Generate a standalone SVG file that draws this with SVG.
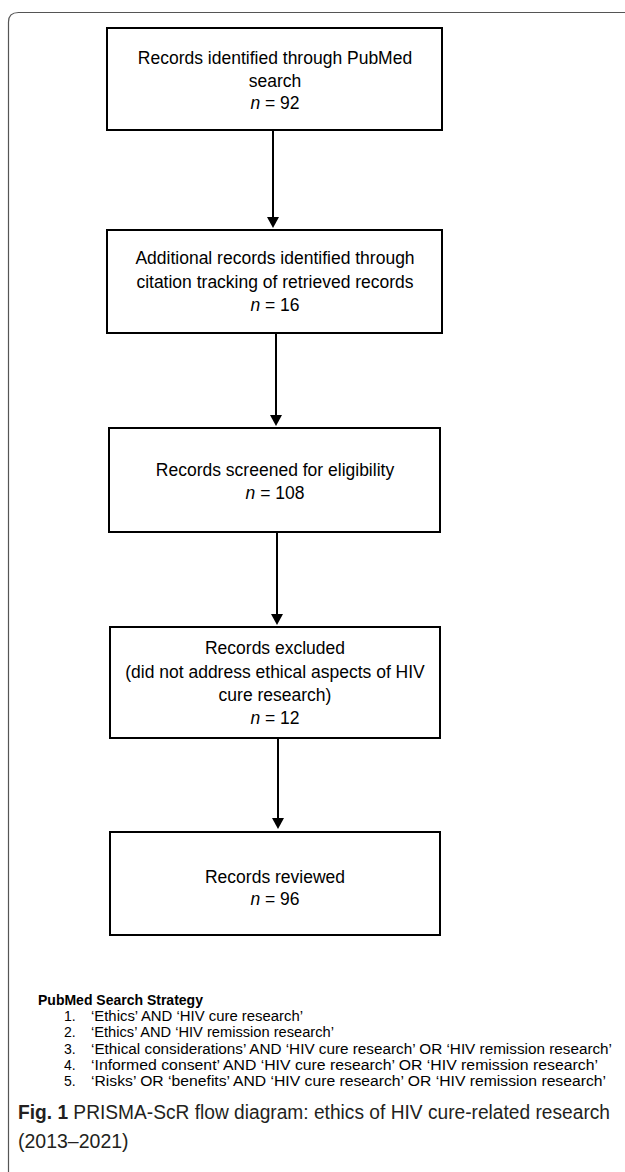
<svg xmlns="http://www.w3.org/2000/svg" width="625" height="1172" viewBox="0 0 625 1172">
<style>
.box{fill:#fff;stroke:#000;stroke-width:2}
.bt{font-family:"Liberation Sans",Arial,sans-serif;font-size:17.5px;fill:#000;text-anchor:middle}
.it{font-style:italic}
.con{stroke:#000;stroke-width:2;fill:none}
.ah{fill:#000}
.st{font-family:"Liberation Sans",Arial,sans-serif;font-size:14px;fill:#000}
.cap{font-family:"Liberation Sans",Arial,sans-serif;font-size:19.5px;fill:#231f20}
</style>
<rect x="0" y="0" width="625" height="1172" fill="#fff"/>
<path d="M8.5 1172 V22 Q8.5 12.5 18.5 12.5 H625" fill="none" stroke="#555" stroke-width="1.2"/>
<g id="connectors">
<line class="con" x1="273" y1="131" x2="273" y2="218"/>
<polygon class="ah" points="267,217 279,217 273,228"/>
<line class="con" x1="276" y1="334" x2="276" y2="416"/>
<polygon class="ah" points="270,415 282,415 276,426"/>
<line class="con" x1="277" y1="533" x2="277" y2="615"/>
<polygon class="ah" points="271,614 283,614 277,625"/>
<line class="con" x1="278" y1="739" x2="278" y2="819"/>
<polygon class="ah" points="272,818 284,818 278,829"/>
</g>
<g id="n1">
<rect class="box" x="107" y="28" width="335" height="102"/>
<text class="bt" x="275" y="64">Records identified through PubMed</text>
<text class="bt" x="275" y="87">search</text>
<text class="bt" x="275" y="109"><tspan class="it">n</tspan> = 92</text>
</g>
<g id="n2">
<rect class="box" x="107" y="230" width="335" height="103"/>
<text class="bt" x="275" y="264">Additional records identified through</text>
<text class="bt" x="275" y="288">citation tracking of retrieved records</text>
<text class="bt" x="275" y="311"><tspan class="it">n</tspan> = 16</text>
</g>
<g id="n3">
<rect class="box" x="109" y="428" width="331" height="104"/>
<text class="bt" x="275" y="476">Records screened for eligibility</text>
<text class="bt" x="275" y="499"><tspan class="it">n</tspan> = 108</text>
</g>
<g id="n4">
<rect class="box" x="110" y="627" width="330" height="111"/>
<text class="bt" x="275" y="654">Records excluded</text>
<text class="bt" x="275" y="678">(did not address ethical aspects of HIV</text>
<text class="bt" x="275" y="701">cure research)</text>
<text class="bt" x="275" y="724"><tspan class="it">n</tspan> = 12</text>
</g>
<g id="n5">
<rect class="box" x="110" y="832" width="330" height="103"/>
<text class="bt" x="275" y="883">Records reviewed</text>
<text class="bt" x="275" y="905"><tspan class="it">n</tspan> = 96</text>
</g>
<g id="strategy">
<text class="st" x="38" y="1005" font-weight="bold">PubMed Search Strategy</text>
<text class="st" x="64" y="1021">1.</text>
<text class="st" x="91" y="1021" textLength="212" lengthAdjust="spacingAndGlyphs">‘Ethics’ AND ‘HIV cure research’</text>
<text class="st" x="64" y="1037">2.</text>
<text class="st" x="91" y="1037" textLength="243" lengthAdjust="spacingAndGlyphs">‘Ethics’ AND ‘HIV remission research’</text>
<text class="st" x="64" y="1054">3.</text>
<text class="st" x="91" y="1054" textLength="521" lengthAdjust="spacingAndGlyphs">‘Ethical considerations’ AND ‘HIV cure research’ OR ‘HIV remission research’</text>
<text class="st" x="64" y="1070">4.</text>
<text class="st" x="91" y="1070" textLength="507" lengthAdjust="spacingAndGlyphs">‘Informed consent’ AND ‘HIV cure research’ OR ‘HIV remission research’</text>
<text class="st" x="64" y="1086">5.</text>
<text class="st" x="91" y="1086" textLength="515" lengthAdjust="spacingAndGlyphs">‘Risks’ OR ‘benefits’ AND ‘HIV cure research’ OR ‘HIV remission research’</text>
</g>
<g id="caption">
<text class="cap" x="18" y="1119" textLength="592" lengthAdjust="spacingAndGlyphs"><tspan font-weight="bold">Fig. 1</tspan>  PRISMA-ScR flow diagram: ethics of HIV cure-related research</text>
<text class="cap" x="18" y="1148">(2013–2021)</text>
</g>
</svg>
